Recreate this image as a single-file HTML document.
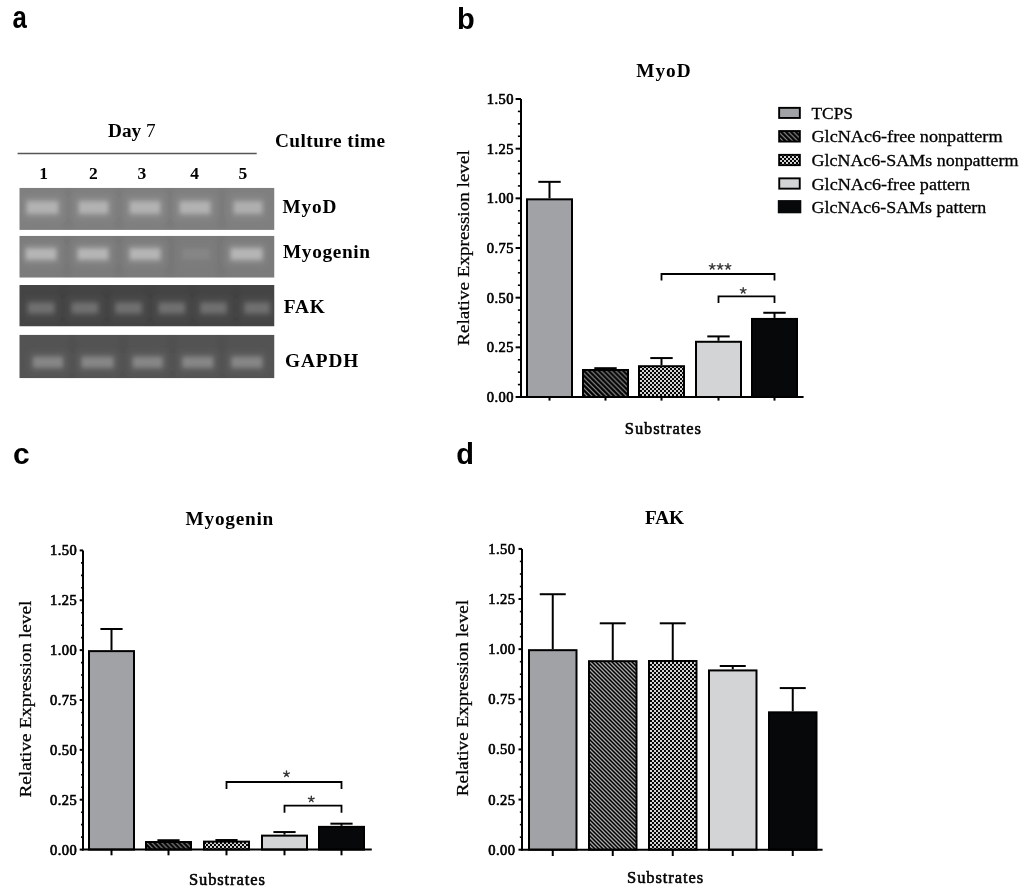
<!DOCTYPE html>
<html><head><meta charset="utf-8"><title>Figure</title>
<style>
html,body{margin:0;padding:0;background:#fff;}
body{width:1024px;height:891px;overflow:hidden;}
svg{display:block;filter:blur(0.35px);}
.pl{font-family:"Liberation Sans", sans-serif;font-weight:bold;font-size:30px;fill:#000;}
.tl{font-family:"Liberation Serif", serif;font-size:14.5px;fill:#000;stroke:#000;stroke-width:0.65px;letter-spacing:0.4px;}
.yl{font-family:"Liberation Serif", serif;font-size:17px;fill:#000;stroke:#000;stroke-width:0.25px;}
.ti{font-family:"Liberation Serif", serif;font-weight:bold;font-size:19.3px;fill:#000;}
.sb{font-family:"Liberation Serif", serif;font-size:16.5px;fill:#000;stroke:#000;stroke-width:0.55px;}
.st{font-family:"Liberation Sans", sans-serif;font-size:15px;fill:#333;}
.lg{font-family:"Liberation Serif", serif;font-size:17px;fill:#000;stroke:#000;stroke-width:0.3px;}
.ga{font-family:"Liberation Serif", serif;font-weight:bold;font-size:19.3px;fill:#000;}
.ln{font-family:"Liberation Serif", serif;font-weight:bold;font-size:17.5px;fill:#000;}
</style></head><body>
<svg width="1024" height="891" viewBox="0 0 1024 891">
<defs>
<pattern id="hb" patternUnits="userSpaceOnUse" width="4.9" height="4.9" patternTransform="rotate(0)">
<rect width="4.9" height="4.9" fill="#000"/>
<path d="M-1.2 -1.2 L6.1 6.1 M-1.2 3.7 L1.2 6.1 M3.7 -1.2 L6.1 1.2" stroke="#9a9a9a" stroke-width="1.1"/>
</pattern>
<pattern id="hd" patternUnits="userSpaceOnUse" width="4" height="4">
<rect width="4" height="4" fill="#000"/>
<path d="M-1 -1 L5 5 M-1 3 L1 5 M3 -1 L5 1" stroke="#a8a8a8" stroke-width="1.3"/>
</pattern>
<pattern id="chk" patternUnits="userSpaceOnUse" width="4" height="4">
<rect width="4" height="4" fill="#050505"/>
<rect x="0" y="0" width="2" height="2" fill="#d4d4d4"/>
<rect x="2" y="2" width="2" height="2" fill="#d4d4d4"/>
</pattern>
<filter id="bl" x="-30%" y="-60%" width="160%" height="220%"><feGaussianBlur stdDeviation="2.2"/></filter>
<filter id="bl3" x="-40%" y="-80%" width="180%" height="260%"><feGaussianBlur stdDeviation="3.5"/></filter>
<filter id="bl2" x="-5%" y="-5%" width="110%" height="110%"><feGaussianBlur stdDeviation="0.6"/></filter>
</defs>

<text transform="translate(12.4,28.3) scale(0.86,1.03)" class="pl">a</text>
<text x="457" y="29.1" class="pl" style="font-size:29px">b</text>
<text x="13" y="463.7" class="pl">c</text>
<text x="456.2" y="464" class="pl" style="font-size:29px">d</text>
<text x="108" y="137" class="ga">Day <tspan font-weight="normal">7</tspan></text>
<line x1="17.6" y1="153.5" x2="256.7" y2="153.5" stroke="#555" stroke-width="1.7"/>
<text x="275" y="146.8" class="ga" textLength="110" lengthAdjust="spacing">Culture time</text>
<text x="43.5" y="179" text-anchor="middle" class="ln">1</text>
<text x="93.3" y="179" text-anchor="middle" class="ln">2</text>
<text x="141.9" y="179" text-anchor="middle" class="ln">3</text>
<text x="194.5" y="179" text-anchor="middle" class="ln">4</text>
<text x="242.8" y="179" text-anchor="middle" class="ln">5</text>
<clipPath id="gc0"><rect x="19.3" y="187.8" width="255.2" height="42.1"/></clipPath>
<g clip-path="url(#gc0)">
<rect x="19.3" y="187.8" width="255.2" height="42.1" fill="#7f7f7f"/>
<g filter="url(#bl3)">
<rect x="65.5" y="187.8" width="5" height="42.1" fill="#000" opacity="0.07"/>
<rect x="116.5" y="187.8" width="5" height="42.1" fill="#000" opacity="0.07"/>
<rect x="167.5" y="187.8" width="5" height="42.1" fill="#000" opacity="0.07"/>
<rect x="219.5" y="187.8" width="5" height="42.1" fill="#000" opacity="0.07"/>
<rect x="24" y="197.5" width="37" height="20" fill="#b2b2b2" opacity="0.3"/>
<rect x="76" y="197.5" width="35" height="20" fill="#b2b2b2" opacity="0.3"/>
<rect x="127" y="197.5" width="36" height="20" fill="#b2b2b2" opacity="0.3"/>
<rect x="177" y="197.5" width="36" height="20" fill="#b2b2b2" opacity="0.3"/>
<rect x="231" y="197.5" width="34" height="20" fill="#b2b2b2" opacity="0.27"/>
</g>
<g filter="url(#bl)">
<rect x="27" y="201.5" width="31" height="12" fill="#b2b2b2" opacity="1"/>
<rect x="79" y="201.5" width="29" height="12" fill="#b2b2b2" opacity="1"/>
<rect x="130" y="201.5" width="30" height="12" fill="#b2b2b2" opacity="1"/>
<rect x="180" y="201.5" width="30" height="12" fill="#b2b2b2" opacity="1"/>
<rect x="234" y="201.5" width="28" height="12" fill="#b2b2b2" opacity="0.9"/>
</g></g>
<clipPath id="gc1"><rect x="19.3" y="235.8" width="255.2" height="41.9"/></clipPath>
<g clip-path="url(#gc1)">
<rect x="19.3" y="235.8" width="255.2" height="41.9" fill="#7b7b7b"/>
<g filter="url(#bl3)">
<rect x="64.5" y="235.8" width="5" height="41.9" fill="#000" opacity="0.07"/>
<rect x="116.5" y="235.8" width="5" height="41.9" fill="#000" opacity="0.07"/>
<rect x="167.5" y="235.8" width="5" height="41.9" fill="#000" opacity="0.07"/>
<rect x="218.5" y="235.8" width="5" height="41.9" fill="#000" opacity="0.07"/>
<rect x="23" y="244.5" width="36" height="19" fill="#b6b6b6" opacity="0.3"/>
<rect x="75" y="244.5" width="36" height="19" fill="#b6b6b6" opacity="0.3"/>
<rect x="127" y="244.5" width="36" height="19" fill="#b6b6b6" opacity="0.3"/>
<rect x="179" y="244.5" width="34" height="19" fill="#b6b6b6" opacity="0.04"/>
<rect x="228" y="244.5" width="37" height="19" fill="#b6b6b6" opacity="0.32"/>
</g>
<g filter="url(#bl)">
<rect x="26" y="248.5" width="30" height="11" fill="#b6b6b6" opacity="1"/>
<rect x="78" y="248.5" width="30" height="11" fill="#b6b6b6" opacity="1"/>
<rect x="130" y="248.5" width="30" height="11" fill="#b6b6b6" opacity="1"/>
<rect x="182" y="248.5" width="28" height="11" fill="#b6b6b6" opacity="0.15"/>
<rect x="231" y="248.5" width="31" height="11" fill="#b6b6b6" opacity="1.05"/>
</g></g>
<clipPath id="gc2"><rect x="19.3" y="285.0" width="255.2" height="41.5"/></clipPath>
<g clip-path="url(#gc2)">
<rect x="19.3" y="285.0" width="255.2" height="41.5" fill="#444444"/>
<g filter="url(#bl3)">
<rect x="60.5" y="285.0" width="5" height="41.5" fill="#000" opacity="0.07"/>
<rect x="104.5" y="285.0" width="5" height="41.5" fill="#000" opacity="0.07"/>
<rect x="147.5" y="285.0" width="5" height="41.5" fill="#000" opacity="0.07"/>
<rect x="190.5" y="285.0" width="5" height="41.5" fill="#000" opacity="0.07"/>
<rect x="233.5" y="285.0" width="5" height="41.5" fill="#000" opacity="0.07"/>
<rect x="25.4" y="299" width="31.4" height="18" fill="#707070" opacity="0.3"/>
<rect x="69.2" y="299" width="31.4" height="18" fill="#707070" opacity="0.3"/>
<rect x="112.9" y="299" width="31.4" height="18" fill="#707070" opacity="0.3"/>
<rect x="156.1" y="299" width="31.3" height="18" fill="#707070" opacity="0.3"/>
<rect x="197.8" y="299" width="31.3" height="18" fill="#707070" opacity="0.3"/>
<rect x="241.8" y="299" width="30.5" height="18" fill="#707070" opacity="0.3"/>
</g>
<g filter="url(#bl)">
<rect x="28.4" y="303" width="25.4" height="10" fill="#707070" opacity="1"/>
<rect x="72.2" y="303" width="25.4" height="10" fill="#707070" opacity="1"/>
<rect x="115.9" y="303" width="25.4" height="10" fill="#707070" opacity="1"/>
<rect x="159.1" y="303" width="25.3" height="10" fill="#707070" opacity="1"/>
<rect x="200.8" y="303" width="25.3" height="10" fill="#707070" opacity="1"/>
<rect x="244.8" y="303" width="24.5" height="10" fill="#707070" opacity="1"/>
</g></g>
<clipPath id="gc3"><rect x="19.3" y="334.7" width="255.2" height="43.6"/></clipPath>
<g clip-path="url(#gc3)">
<rect x="19.3" y="334.7" width="255.2" height="43.6" fill="#535353"/>
<g filter="url(#bl3)">
<rect x="69.5" y="334.7" width="5" height="43.6" fill="#000" opacity="0.07"/>
<rect x="120.5" y="334.7" width="5" height="43.6" fill="#000" opacity="0.07"/>
<rect x="169.5" y="334.7" width="5" height="43.6" fill="#000" opacity="0.07"/>
<rect x="219.5" y="334.7" width="5" height="43.6" fill="#000" opacity="0.07"/>
<rect x="30.2" y="353" width="35.5" height="18.5" fill="#868686" opacity="0.3"/>
<rect x="78.7" y="353" width="37.6" height="18.5" fill="#868686" opacity="0.3"/>
<rect x="130" y="353" width="35.4" height="18.5" fill="#868686" opacity="0.3"/>
<rect x="179.5" y="353" width="36.5" height="18.5" fill="#868686" opacity="0.3"/>
<rect x="228.6" y="353" width="36.4" height="18.5" fill="#868686" opacity="0.3"/>
</g>
<g filter="url(#bl)">
<rect x="33.2" y="357" width="29.5" height="10.5" fill="#868686" opacity="1"/>
<rect x="81.7" y="357" width="31.6" height="10.5" fill="#868686" opacity="1"/>
<rect x="133" y="357" width="29.4" height="10.5" fill="#868686" opacity="1"/>
<rect x="182.5" y="357" width="30.5" height="10.5" fill="#868686" opacity="1"/>
<rect x="231.6" y="357" width="30.4" height="10.5" fill="#868686" opacity="1"/>
</g></g>
<text x="282.4" y="213" class="ga" textLength="54" lengthAdjust="spacing">MyoD</text>
<text x="283" y="257.5" class="ga" textLength="87" lengthAdjust="spacing">Myogenin</text>
<text x="283.7" y="312.8" class="ga" textLength="41" lengthAdjust="spacing">FAK</text>
<text x="285" y="367.1" class="ga" textLength="73.2" lengthAdjust="spacing">GAPDH</text>
<line x1="549.5" y1="181.84" x2="549.5" y2="198.33" stroke="#000" stroke-width="2"/>
<line x1="538.3" y1="181.84" x2="560.7" y2="181.84" stroke="#000" stroke-width="2"/>
<rect x="527" y="199.33" width="45" height="197.67" fill="#a1a2a6" stroke="#000" stroke-width="2"/>
<line x1="549.5" y1="397" x2="549.5" y2="400.6" stroke="#000" stroke-width="2"/>
<line x1="605.5" y1="368.19" x2="605.5" y2="368.99" stroke="#000" stroke-width="2"/>
<line x1="594.3" y1="368.19" x2="616.7" y2="368.19" stroke="#000" stroke-width="2"/>
<rect x="583" y="369.99" width="45" height="27.01" fill="url(#hb)" stroke="#000" stroke-width="2"/>
<line x1="605.5" y1="397" x2="605.5" y2="400.6" stroke="#000" stroke-width="2"/>
<line x1="661.5" y1="358.06" x2="661.5" y2="365.21" stroke="#000" stroke-width="2"/>
<line x1="650.3" y1="358.06" x2="672.7" y2="358.06" stroke="#000" stroke-width="2"/>
<rect x="639" y="366.21" width="45" height="30.79" fill="url(#chk)" stroke="#000" stroke-width="2"/>
<line x1="661.5" y1="397" x2="661.5" y2="400.6" stroke="#000" stroke-width="2"/>
<line x1="718.5" y1="336.41" x2="718.5" y2="340.78" stroke="#000" stroke-width="2"/>
<line x1="707.3" y1="336.41" x2="729.7" y2="336.41" stroke="#000" stroke-width="2"/>
<rect x="696" y="341.78" width="45" height="55.22" fill="#d3d4d6" stroke="#000" stroke-width="2"/>
<line x1="718.5" y1="397" x2="718.5" y2="400.6" stroke="#000" stroke-width="2"/>
<line x1="774.5" y1="312.77" x2="774.5" y2="317.93" stroke="#000" stroke-width="2"/>
<line x1="763.3" y1="312.77" x2="785.7" y2="312.77" stroke="#000" stroke-width="2"/>
<rect x="752" y="318.93" width="45" height="78.07" fill="#060809" stroke="#000" stroke-width="2"/>
<line x1="774.5" y1="397" x2="774.5" y2="400.6" stroke="#000" stroke-width="2"/>
<line x1="521" y1="99" x2="521" y2="398" stroke="#000" stroke-width="2"/>
<line x1="520" y1="397" x2="803.6" y2="397" stroke="#000" stroke-width="2"/>
<line x1="515.6" y1="397" x2="521" y2="397" stroke="#000" stroke-width="2"/>
<text x="513.8" y="402" text-anchor="end" class="tl">0.00</text>
<line x1="517.9" y1="384.58" x2="521" y2="384.58" stroke="#000" stroke-width="1.6"/>
<line x1="517.9" y1="372.17" x2="521" y2="372.17" stroke="#000" stroke-width="1.6"/>
<line x1="517.9" y1="359.75" x2="521" y2="359.75" stroke="#000" stroke-width="1.6"/>
<line x1="515.6" y1="347.33" x2="521" y2="347.33" stroke="#000" stroke-width="2"/>
<text x="513.8" y="352.33" text-anchor="end" class="tl">0.25</text>
<line x1="517.9" y1="334.92" x2="521" y2="334.92" stroke="#000" stroke-width="1.6"/>
<line x1="517.9" y1="322.5" x2="521" y2="322.5" stroke="#000" stroke-width="1.6"/>
<line x1="517.9" y1="310.08" x2="521" y2="310.08" stroke="#000" stroke-width="1.6"/>
<line x1="515.6" y1="297.67" x2="521" y2="297.67" stroke="#000" stroke-width="2"/>
<text x="513.8" y="302.67" text-anchor="end" class="tl">0.50</text>
<line x1="517.9" y1="285.25" x2="521" y2="285.25" stroke="#000" stroke-width="1.6"/>
<line x1="517.9" y1="272.83" x2="521" y2="272.83" stroke="#000" stroke-width="1.6"/>
<line x1="517.9" y1="260.42" x2="521" y2="260.42" stroke="#000" stroke-width="1.6"/>
<line x1="515.6" y1="248" x2="521" y2="248" stroke="#000" stroke-width="2"/>
<text x="513.8" y="253" text-anchor="end" class="tl">0.75</text>
<line x1="517.9" y1="235.58" x2="521" y2="235.58" stroke="#000" stroke-width="1.6"/>
<line x1="517.9" y1="223.17" x2="521" y2="223.17" stroke="#000" stroke-width="1.6"/>
<line x1="517.9" y1="210.75" x2="521" y2="210.75" stroke="#000" stroke-width="1.6"/>
<line x1="515.6" y1="198.33" x2="521" y2="198.33" stroke="#000" stroke-width="2"/>
<text x="513.8" y="203.33" text-anchor="end" class="tl">1.00</text>
<line x1="517.9" y1="185.92" x2="521" y2="185.92" stroke="#000" stroke-width="1.6"/>
<line x1="517.9" y1="173.5" x2="521" y2="173.5" stroke="#000" stroke-width="1.6"/>
<line x1="517.9" y1="161.08" x2="521" y2="161.08" stroke="#000" stroke-width="1.6"/>
<line x1="515.6" y1="148.67" x2="521" y2="148.67" stroke="#000" stroke-width="2"/>
<text x="513.8" y="153.67" text-anchor="end" class="tl">1.25</text>
<line x1="517.9" y1="136.25" x2="521" y2="136.25" stroke="#000" stroke-width="1.6"/>
<line x1="517.9" y1="123.83" x2="521" y2="123.83" stroke="#000" stroke-width="1.6"/>
<line x1="517.9" y1="111.42" x2="521" y2="111.42" stroke="#000" stroke-width="1.6"/>
<line x1="515.6" y1="99" x2="521" y2="99" stroke="#000" stroke-width="2"/>
<text x="513.8" y="104" text-anchor="end" class="tl">1.50</text>
<text transform="translate(469,248) rotate(-90)" text-anchor="middle" class="yl" textLength="195.5" lengthAdjust="spacingAndGlyphs">Relative Expression level</text>
<text x="663.4" y="77.2" text-anchor="middle" class="ti" textLength="54.4" lengthAdjust="spacing">MyoD</text>
<text x="662.8" y="433.7" text-anchor="middle" class="sb" textLength="76" lengthAdjust="spacing">Substrates</text>
<path d="M661.5 280.6 V274 H774.5 V280.6" fill="none" stroke="#000" stroke-width="1.8"/>
<path d="M712.2 266.6L712.2 263.6M712.2 266.6L715.05 265.67M712.2 266.6L713.96 269.03M712.2 266.6L710.44 269.03M712.2 266.6L709.35 265.67" stroke="#383838" stroke-width="1.4" stroke-linecap="round"/>
<path d="M720.1 266.6L720.1 263.6M720.1 266.6L722.95 265.67M720.1 266.6L721.86 269.03M720.1 266.6L718.34 269.03M720.1 266.6L717.25 265.67" stroke="#383838" stroke-width="1.4" stroke-linecap="round"/>
<path d="M728 266.6L728 263.6M728 266.6L730.85 265.67M728 266.6L729.76 269.03M728 266.6L726.24 269.03M728 266.6L725.15 265.67" stroke="#383838" stroke-width="1.4" stroke-linecap="round"/>
<path d="M718.5 302.9 V296.3 H774.5 V302.9" fill="none" stroke="#000" stroke-width="1.8"/>
<path d="M743.2 290.6L743.2 287.6M743.2 290.6L746.05 289.67M743.2 290.6L744.96 293.03M743.2 290.6L741.44 293.03M743.2 290.6L740.35 289.67" stroke="#383838" stroke-width="1.4" stroke-linecap="round"/>
<rect x="779.15" y="107.85" width="20.7" height="10.1" fill="#a1a2a6" stroke="#000" stroke-width="1.9"/>
<text x="811.5" y="118.6" class="lg" textLength="41.5" lengthAdjust="spacingAndGlyphs">TCPS</text>
<rect x="779.15" y="131.05" width="20.7" height="10.5" fill="url(#hb)" stroke="#000" stroke-width="1.9"/>
<text x="811.5" y="141.9" class="lg" textLength="191" lengthAdjust="spacingAndGlyphs">GlcNAc6-free nonpatterm</text>
<rect x="779.15" y="154.85" width="20.7" height="10.3" fill="url(#chk)" stroke="#000" stroke-width="1.9"/>
<text x="811.5" y="165.7" class="lg" textLength="207" lengthAdjust="spacingAndGlyphs">GlcNAc6-SAMs nonpatterm</text>
<rect x="779.25" y="178.35" width="20.5" height="10.3" fill="#d3d4d6" stroke="#000" stroke-width="1.9"/>
<text x="811.5" y="189.5" class="lg" textLength="158.7" lengthAdjust="spacingAndGlyphs">GlcNAc6-free pattern</text>
<rect x="777.8" y="200.1" width="23.5" height="13.2" fill="#060809"/>
<text x="811.5" y="212.6" class="lg" textLength="174.8" lengthAdjust="spacingAndGlyphs">GlcNAc6-SAMs pattern</text>
<line x1="111.5" y1="628.99" x2="111.5" y2="650.13" stroke="#000" stroke-width="2"/>
<line x1="100.4" y1="628.99" x2="122.6" y2="628.99" stroke="#000" stroke-width="2"/>
<rect x="89" y="651.13" width="45" height="198.47" fill="#a1a2a6" stroke="#000" stroke-width="2"/>
<line x1="111.5" y1="849.6" x2="111.5" y2="855.3" stroke="#000" stroke-width="2"/>
<line x1="168.5" y1="840.23" x2="168.5" y2="841.02" stroke="#000" stroke-width="2"/>
<line x1="157.4" y1="840.23" x2="179.6" y2="840.23" stroke="#000" stroke-width="2"/>
<rect x="146" y="842.02" width="45" height="7.58" fill="url(#hb)" stroke="#000" stroke-width="2"/>
<line x1="168.5" y1="849.6" x2="168.5" y2="855.3" stroke="#000" stroke-width="2"/>
<line x1="226.5" y1="840.03" x2="226.5" y2="840.62" stroke="#000" stroke-width="2"/>
<line x1="215.4" y1="840.03" x2="237.6" y2="840.03" stroke="#000" stroke-width="2"/>
<rect x="204" y="841.62" width="45" height="7.98" fill="url(#chk)" stroke="#000" stroke-width="2"/>
<line x1="226.5" y1="849.6" x2="226.5" y2="855.3" stroke="#000" stroke-width="2"/>
<line x1="284.5" y1="832.05" x2="284.5" y2="834.64" stroke="#000" stroke-width="2"/>
<line x1="273.4" y1="832.05" x2="295.6" y2="832.05" stroke="#000" stroke-width="2"/>
<rect x="262" y="835.64" width="45" height="13.96" fill="#d3d4d6" stroke="#000" stroke-width="2"/>
<line x1="284.5" y1="849.6" x2="284.5" y2="855.3" stroke="#000" stroke-width="2"/>
<line x1="341.5" y1="823.67" x2="341.5" y2="825.86" stroke="#000" stroke-width="2"/>
<line x1="330.4" y1="823.67" x2="352.6" y2="823.67" stroke="#000" stroke-width="2"/>
<rect x="319" y="826.86" width="45" height="22.74" fill="#060809" stroke="#000" stroke-width="2"/>
<line x1="341.5" y1="849.6" x2="341.5" y2="855.3" stroke="#000" stroke-width="2"/>
<line x1="83" y1="550.4" x2="83" y2="850.6" stroke="#000" stroke-width="2"/>
<line x1="82" y1="849.6" x2="371.8" y2="849.6" stroke="#000" stroke-width="2"/>
<line x1="79.7" y1="849.6" x2="83" y2="849.6" stroke="#000" stroke-width="2"/>
<text x="77.1" y="854.6" text-anchor="end" class="tl">0.00</text>
<line x1="81" y1="837.13" x2="83" y2="837.13" stroke="#000" stroke-width="1.6"/>
<line x1="81" y1="824.67" x2="83" y2="824.67" stroke="#000" stroke-width="1.6"/>
<line x1="81" y1="812.2" x2="83" y2="812.2" stroke="#000" stroke-width="1.6"/>
<line x1="79.7" y1="799.73" x2="83" y2="799.73" stroke="#000" stroke-width="2"/>
<text x="77.1" y="804.73" text-anchor="end" class="tl">0.25</text>
<line x1="81" y1="787.27" x2="83" y2="787.27" stroke="#000" stroke-width="1.6"/>
<line x1="81" y1="774.8" x2="83" y2="774.8" stroke="#000" stroke-width="1.6"/>
<line x1="81" y1="762.33" x2="83" y2="762.33" stroke="#000" stroke-width="1.6"/>
<line x1="79.7" y1="749.87" x2="83" y2="749.87" stroke="#000" stroke-width="2"/>
<text x="77.1" y="754.87" text-anchor="end" class="tl">0.50</text>
<line x1="81" y1="737.4" x2="83" y2="737.4" stroke="#000" stroke-width="1.6"/>
<line x1="81" y1="724.93" x2="83" y2="724.93" stroke="#000" stroke-width="1.6"/>
<line x1="81" y1="712.47" x2="83" y2="712.47" stroke="#000" stroke-width="1.6"/>
<line x1="79.7" y1="700" x2="83" y2="700" stroke="#000" stroke-width="2"/>
<text x="77.1" y="705" text-anchor="end" class="tl">0.75</text>
<line x1="81" y1="687.53" x2="83" y2="687.53" stroke="#000" stroke-width="1.6"/>
<line x1="81" y1="675.07" x2="83" y2="675.07" stroke="#000" stroke-width="1.6"/>
<line x1="81" y1="662.6" x2="83" y2="662.6" stroke="#000" stroke-width="1.6"/>
<line x1="79.7" y1="650.13" x2="83" y2="650.13" stroke="#000" stroke-width="2"/>
<text x="77.1" y="655.13" text-anchor="end" class="tl">1.00</text>
<line x1="81" y1="637.67" x2="83" y2="637.67" stroke="#000" stroke-width="1.6"/>
<line x1="81" y1="625.2" x2="83" y2="625.2" stroke="#000" stroke-width="1.6"/>
<line x1="81" y1="612.73" x2="83" y2="612.73" stroke="#000" stroke-width="1.6"/>
<line x1="79.7" y1="600.27" x2="83" y2="600.27" stroke="#000" stroke-width="2"/>
<text x="77.1" y="605.27" text-anchor="end" class="tl">1.25</text>
<line x1="81" y1="587.8" x2="83" y2="587.8" stroke="#000" stroke-width="1.6"/>
<line x1="81" y1="575.33" x2="83" y2="575.33" stroke="#000" stroke-width="1.6"/>
<line x1="81" y1="562.87" x2="83" y2="562.87" stroke="#000" stroke-width="1.6"/>
<line x1="79.7" y1="550.4" x2="83" y2="550.4" stroke="#000" stroke-width="2"/>
<text x="77.1" y="555.4" text-anchor="end" class="tl">1.50</text>
<text transform="translate(31,699.1) rotate(-90)" text-anchor="middle" class="yl" textLength="197" lengthAdjust="spacingAndGlyphs">Relative Expression level</text>
<text x="229.4" y="524.8" text-anchor="middle" class="ti" textLength="87.6" lengthAdjust="spacing">Myogenin</text>
<text x="226.9" y="884.6" text-anchor="middle" class="sb" textLength="76" lengthAdjust="spacing">Substrates</text>
<path d="M226.5 789 V782 H341.5 V789" fill="none" stroke="#000" stroke-width="1.8"/>
<path d="M286.5 774L286.5 771M286.5 774L289.35 773.07M286.5 774L288.26 776.43M286.5 774L284.74 776.43M286.5 774L283.65 773.07" stroke="#383838" stroke-width="1.4" stroke-linecap="round"/>
<path d="M284.5 812.7 V805.7 H341.5 V812.7" fill="none" stroke="#000" stroke-width="1.8"/>
<path d="M311.3 799.2L311.3 796.2M311.3 799.2L314.15 798.27M311.3 799.2L313.06 801.63M311.3 799.2L309.54 801.63M311.3 799.2L308.45 798.27" stroke="#383838" stroke-width="1.4" stroke-linecap="round"/>
<line x1="552.75" y1="594.22" x2="552.75" y2="649.17" stroke="#000" stroke-width="2"/>
<line x1="539.75" y1="594.22" x2="565.75" y2="594.22" stroke="#000" stroke-width="2"/>
<rect x="529" y="650.17" width="47.5" height="199.53" fill="#a1a2a6" stroke="#000" stroke-width="2"/>
<line x1="552.75" y1="849.7" x2="552.75" y2="856" stroke="#000" stroke-width="2"/>
<line x1="612.75" y1="623.3" x2="612.75" y2="660.2" stroke="#000" stroke-width="2"/>
<line x1="599.75" y1="623.3" x2="625.75" y2="623.3" stroke="#000" stroke-width="2"/>
<rect x="589" y="661.2" width="47.5" height="188.5" fill="url(#hd)" stroke="#000" stroke-width="2"/>
<line x1="612.75" y1="849.7" x2="612.75" y2="856" stroke="#000" stroke-width="2"/>
<line x1="672.75" y1="623.3" x2="672.75" y2="660" stroke="#000" stroke-width="2"/>
<line x1="659.75" y1="623.3" x2="685.75" y2="623.3" stroke="#000" stroke-width="2"/>
<rect x="649" y="661" width="47.5" height="188.7" fill="url(#chk)" stroke="#000" stroke-width="2"/>
<line x1="672.75" y1="849.7" x2="672.75" y2="856" stroke="#000" stroke-width="2"/>
<line x1="732.75" y1="666.01" x2="732.75" y2="669.42" stroke="#000" stroke-width="2"/>
<line x1="719.75" y1="666.01" x2="745.75" y2="666.01" stroke="#000" stroke-width="2"/>
<rect x="709" y="670.42" width="47.5" height="179.28" fill="#d3d4d6" stroke="#000" stroke-width="2"/>
<line x1="732.75" y1="849.7" x2="732.75" y2="856" stroke="#000" stroke-width="2"/>
<line x1="792.75" y1="688.07" x2="792.75" y2="711.33" stroke="#000" stroke-width="2"/>
<line x1="779.75" y1="688.07" x2="805.75" y2="688.07" stroke="#000" stroke-width="2"/>
<rect x="769" y="712.33" width="47.5" height="137.37" fill="#060809" stroke="#000" stroke-width="2"/>
<line x1="792.75" y1="849.7" x2="792.75" y2="856" stroke="#000" stroke-width="2"/>
<line x1="522" y1="548.9" x2="522" y2="850.7" stroke="#000" stroke-width="2"/>
<line x1="521" y1="849.7" x2="822.6" y2="849.7" stroke="#000" stroke-width="2"/>
<line x1="518.5" y1="849.7" x2="522" y2="849.7" stroke="#000" stroke-width="2"/>
<text x="515.3" y="854.7" text-anchor="end" class="tl">0.00</text>
<line x1="519.85" y1="837.17" x2="522" y2="837.17" stroke="#000" stroke-width="1.6"/>
<line x1="519.85" y1="824.63" x2="522" y2="824.63" stroke="#000" stroke-width="1.6"/>
<line x1="519.85" y1="812.1" x2="522" y2="812.1" stroke="#000" stroke-width="1.6"/>
<line x1="518.5" y1="799.57" x2="522" y2="799.57" stroke="#000" stroke-width="2"/>
<text x="515.3" y="804.57" text-anchor="end" class="tl">0.25</text>
<line x1="519.85" y1="787.03" x2="522" y2="787.03" stroke="#000" stroke-width="1.6"/>
<line x1="519.85" y1="774.5" x2="522" y2="774.5" stroke="#000" stroke-width="1.6"/>
<line x1="519.85" y1="761.97" x2="522" y2="761.97" stroke="#000" stroke-width="1.6"/>
<line x1="518.5" y1="749.43" x2="522" y2="749.43" stroke="#000" stroke-width="2"/>
<text x="515.3" y="754.43" text-anchor="end" class="tl">0.50</text>
<line x1="519.85" y1="736.9" x2="522" y2="736.9" stroke="#000" stroke-width="1.6"/>
<line x1="519.85" y1="724.37" x2="522" y2="724.37" stroke="#000" stroke-width="1.6"/>
<line x1="519.85" y1="711.83" x2="522" y2="711.83" stroke="#000" stroke-width="1.6"/>
<line x1="518.5" y1="699.3" x2="522" y2="699.3" stroke="#000" stroke-width="2"/>
<text x="515.3" y="704.3" text-anchor="end" class="tl">0.75</text>
<line x1="519.85" y1="686.77" x2="522" y2="686.77" stroke="#000" stroke-width="1.6"/>
<line x1="519.85" y1="674.23" x2="522" y2="674.23" stroke="#000" stroke-width="1.6"/>
<line x1="519.85" y1="661.7" x2="522" y2="661.7" stroke="#000" stroke-width="1.6"/>
<line x1="518.5" y1="649.17" x2="522" y2="649.17" stroke="#000" stroke-width="2"/>
<text x="515.3" y="654.17" text-anchor="end" class="tl">1.00</text>
<line x1="519.85" y1="636.63" x2="522" y2="636.63" stroke="#000" stroke-width="1.6"/>
<line x1="519.85" y1="624.1" x2="522" y2="624.1" stroke="#000" stroke-width="1.6"/>
<line x1="519.85" y1="611.57" x2="522" y2="611.57" stroke="#000" stroke-width="1.6"/>
<line x1="518.5" y1="599.03" x2="522" y2="599.03" stroke="#000" stroke-width="2"/>
<text x="515.3" y="604.03" text-anchor="end" class="tl">1.25</text>
<line x1="519.85" y1="586.5" x2="522" y2="586.5" stroke="#000" stroke-width="1.6"/>
<line x1="519.85" y1="573.97" x2="522" y2="573.97" stroke="#000" stroke-width="1.6"/>
<line x1="519.85" y1="561.43" x2="522" y2="561.43" stroke="#000" stroke-width="1.6"/>
<line x1="518.5" y1="548.9" x2="522" y2="548.9" stroke="#000" stroke-width="2"/>
<text x="515.3" y="553.9" text-anchor="end" class="tl">1.50</text>
<text transform="translate(467.6,698.1) rotate(-90)" text-anchor="middle" class="yl" textLength="196.5" lengthAdjust="spacingAndGlyphs">Relative Expression level</text>
<text x="664.5" y="523.9" text-anchor="middle" class="ti" textLength="39" lengthAdjust="spacing">FAK</text>
<text x="665.05" y="882.8" text-anchor="middle" class="sb" textLength="76" lengthAdjust="spacing">Substrates</text>
</svg>
</body></html>
